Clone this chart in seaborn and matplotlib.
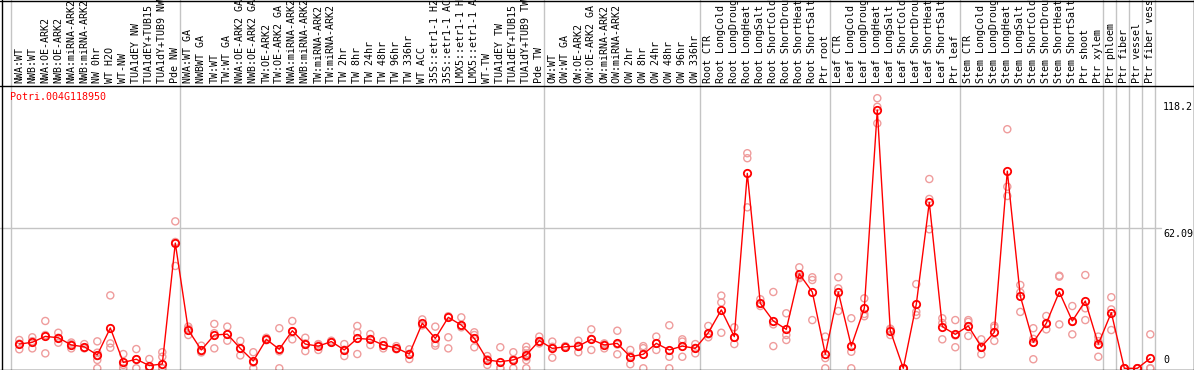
import matplotlib
matplotlib.use("Agg")
import matplotlib.pyplot as plt
import matplotlib.transforms as mtransforms
import numpy as np
import pandas as pd
import seaborn as sns

# ---------------- data ----------------
gene_id = "Potri.004G118950"

samples = [
    "NWA:WT", "NWB:WT", "NWA:OE-ARK2", "NWB:OE-ARK2", "NWA:miRNA-ARK2", "NWB:miRNA-ARK2",
    "NW 0hr", "WT H2O", "WT-NW", "TUA1dEY NW", "TUA1dEY+TUB15 NW", "TUA1dY+TUB9 NW", "Pde NW",
    "NWA:WT GA", "NWBWT GA", "TW:WT", "TW:WT GA", "NWA:OE-ARK2 GA", "NWB:OE-ARK2 GA",
    "TW:OE-ARK2", "TW:OE-ARK2 GA", "NWA:miRNA-ARK2 GA", "NWB:miRNA-ARK2 GA", "TW:miRNA-ARK2",
    "TW:miRNA-ARK2 GA", "TW 2hr", "TW 8hr", "TW 24hr", "TW 48hr", "TW 96hr", "TW 336hr",
    "WT ACC", "35S::etr1-1 H2O", "35S::etr1-1 ACC", "LMX5::etr1-1 H2O", "LMX5::etr1-1 ACC",
    "WT-TW", "TUA1dEY TW", "TUA1dEY+TUB15 TW", "TUA1dY+TUB9 TW", "Pde TW",
    "OW:WT", "OW:WT GA", "OW:OE-ARK2", "OW:OE-ARK2 GA", "OW:miRNA-ARK2", "OW:miRNA-ARK2 GA",
    "OW 2hr", "OW 8hr", "OW 24hr", "OW 48hr", "OW 96hr", "OW 336hr",
    "Root CTR", "Root LongCold", "Root LongDrought", "Root LongHeat", "Root LongSalt",
    "Root ShortCold", "Root ShortDrought", "Root ShortHeat", "Root ShortSalt", "Ptr root",
    "Leaf CTR", "Leaf LongCold", "Leaf LongDrought", "Leaf LongHeat", "Leaf LongSalt",
    "Leaf ShortCold", "Leaf ShortDrought", "Leaf ShortHeat", "Leaf ShortSalt", "Ptr leaf",
    "Stem CTR", "Stem LongCold", "Stem LongDrought", "Stem LongHeat", "Stem LongSalt",
    "Stem ShortCold", "Stem ShortDrought", "Stem ShortHeat", "Stem ShortSalt", "Ptr shoot",
    "Ptr xylem", "Ptr phloem", "Ptr fiber", "Ptr vessel", "Ptr fiber vessel",
]

mean_values = [
    10.7, 11.5, 14.1, 13.5, 10.3, 9.5, 5.9, 17.8, 2.6, 4.0, 1.2, 1.9, 55.3,
    16.9, 8.1, 14.7, 15.1, 8.8, 3.2, 12.8, 8.4, 16.6, 10.7, 9.8, 11.8, 8.1, 13.2,
    12.8, 10.3, 9.0, 6.3, 19.9, 13.2, 22.5, 19.1, 13.2, 3.7, 2.9, 3.7, 5.9, 12.2,
    8.8, 9.5, 9.8, 12.8, 10.3, 11.0, 5.1, 6.2, 11.0, 8.1, 9.8, 8.8,
    15.7, 25.8, 14.0, 86.1, 28.7, 20.9, 17.2, 41.7, 33.7, 6.2,
    33.7, 9.8, 26.5, 114.1, 16.6, 0.0, 28.3, 73.3, 18.4, 15.0,
    18.7, 9.5, 15.9, 87.1, 31.9, 11.5, 19.9, 33.7, 20.9, 29.7,
    10.7, 24.6, 0.0, 0.0, 4.4,
]

replicate_values = [
    [12.5, 8.4, 10.9], [13.7, 8.8, 12.0], [20.9, 6.6, 14.7], [15.7, 11.3, 13.5],
    [10.7, 8.8, 11.4], [10.7, 8.8, 9.0], [11.9, 6.9, 5.4, 3.7, 0.0], [32.2, 11.0, 9.1],
    [6.3, 1.5, 0.0], [8.5, 4.0, 0.0], [4.1, 0.0, 0.0], [7.1, 5.1, 0.0, 0.0],
    [64.9, 45.2, 55.8], [18.4, 14.7, 17.5], [10.0, 7.0, 7.3], [19.6, 8.8, 15.5],
    [18.4, 12.2, 15.0], [12.1, 5.7, 8.6], [7.1, 0.0, 2.5], [13.5, 12.4, 12.6],
    [17.7, 0.0, 7.5], [20.9, 12.8, 16.2], [13.5, 7.6, 11.0], [10.7, 8.1, 10.5],
    [12.2, 11.4, 11.8], [10.7, 5.4, 8.2], [18.7, 15.7, 6.3], [15.1, 10.3, 13.0],
    [12.0, 8.8, 10.1], [9.8, 8.4, 8.8], [8.4, 4.1, 6.4], [21.6, 19.1, 19.0],
    [18.4, 11.0, 10.0], [23.0, 13.7, 8.8], [22.5, 18.1, 19.0], [15.9, 14.7, 9.3],
    [5.4, 1.5, 4.0], [9.3, 0.0, 0.0], [7.1, 0.0, 4.0], [9.5, 8.0, 6.5, 5.0, 3.6, 0.0],
    [14.0, 12.0, 11.0], [11.8, 4.7, 9.5], [9.8, 9.2, 9.5], [12.2, 7.1, 10.0],
    [17.2, 8.1, 13.0], [10.7, 8.8, 11.0], [16.6, 6.2, 10.5], [8.1, 1.8, 5.5],
    [9.8, 8.9, 0.0], [14.0, 8.1, 11.0], [19.0, 5.1, 0.0], [12.8, 11.8, 5.1],
    [10.7, 6.6, 9.0], [18.7, 13.7, 15.0], [32.1, 29.1, 15.7], [18.1, 10.7, 13.5],
    [95.0, 92.8, 71.1], [30.5, 27.5, 28.5], [33.7, 19.4, 9.8], [24.3, 14.7, 12.5],
    [44.6, 39.8, 40.5], [40.2, 39.0, 21.3], [14.0, 0.0, 4.5], [40.2, 35.3, 25.3],
    [22.1, 7.3, 0.0], [30.9, 24.0, 23.0], [119.3, 115.5, 108.2], [17.5, 14.7, 17.2],
    [0.0, 0.0, 0.0], [37.2, 25.0, 23.5], [83.6, 74.8, 61.4], [22.1, 12.8, 20.0],
    [21.3, 9.3, 14.5], [21.3, 14.3, 20.5], [12.8, 6.2, 9.5], [18.8, 18.0, 12.1],
    [105.6, 80.2, 76.1], [36.8, 33.5, 24.9], [17.7, 13.0, 4.0], [23.1, 17.2, 19.5],
    [40.9, 40.5, 19.4], [27.5, 20.5, 15.0], [41.2, 26.5, 21.3], [14.0, 5.1, 12.0],
    [31.4, 26.0, 16.9], [0.0, 0.0, 0.0], [0.0, 0.0, 0.0], [15.0, 0.0, 0.0],
]

# last sample index of each group (separator lines drawn after them)
group_ends = [12, 40, 52, 62, 72, 83, 84, 85, 86, 87]
axis_labels = ["118.2", "62.09", "0"]
axis_label_values = [118.2, 62.09, 0.0]
grid_value = 62.09

# ---------------- figure ----------------
W, H, DPI = 1194, 370, 100
sns.set_style("white")
plt.rcParams["font.family"] = ["DejaVu Sans Mono", "DejaVu Sans"]

fig = plt.figure(figsize=(W / DPI, H / DPI), dpi=DPI)
ax = fig.add_axes([0, 0, 1, 1])
ax.set_axis_off()

# pixel <-> data mapping
x0_px, dx_px = 19.3, 13.0          # pixel centre of first sample, spacing
y0_px, ky = 368.3, 2.264            # pixel row of zero, px per unit
ax.set_xlim((0 - x0_px) / dx_px, (W - x0_px) / dx_px)
ax.set_ylim((y0_px - H) / ky, (y0_px - 0) / ky)

def fy(py):  # pixel row (from top) -> axes fraction
    return 1 - py / H

def fx(px):
    return px / W

light_grey = "#c4c4c4"

# separator lines (span full height)
ax.axvline(-0.66, color=light_grey, lw=1.0, zorder=1)
for g in group_ends:
    ax.axvline(g + 0.385, color=light_grey, lw=1.0, zorder=1)

# horizontal reference line
ax.plot([0, fx(1161)], [fy(y0_px - grid_value * ky)] * 2, transform=ax.transAxes,
        color=light_grey, lw=1.0, zorder=1)

# replicate points
x_idx = np.arange(len(samples))
rep_df = pd.DataFrame(
    [(i, v) for i, reps in enumerate(replicate_values) for v in reps],
    columns=["x", "value"],
)
sns.scatterplot(data=rep_df, x="x", y="value", ax=ax, s=26, marker="o",
                legend=False, zorder=2, clip_on=True)
coll = ax.collections[-1]
coll.set_facecolor("none")
coll.set_edgecolor("#ef9c9c")
coll.set_linewidth(1.0)

# mean line
mean_df = pd.DataFrame({"x": x_idx, "value": mean_values})
sns.lineplot(data=mean_df, x="x", y="value", ax=ax, color="#ff0000", lw=1.0,
             marker="o", markersize=5.3, markerfacecolor="none",
             markeredgecolor="#ff0000", markeredgewidth=1.3,
             errorbar=None, legend=False, zorder=3)
ax.set_axis_off()

# header labels
blend = mtransforms.blended_transform_factory(ax.transData, ax.transAxes)
for i, lab in enumerate(samples):
    ax.text(i, fy(83), lab, transform=blend, rotation=90, ha="center", va="bottom",
            fontsize=7.2, color="black")

# title
ax.text(fx(10), fy(97), gene_id, transform=ax.transAxes, ha="left", va="center",
        fontsize=7.2, color="#ff0000")

# right value labels
for lab, v in zip(axis_labels, axis_label_values):
    py = y0_px - v * ky
    if v == 0:
        ax.text(fx(1163), fy(365), lab, transform=ax.transAxes, ha="left",
                va="bottom", fontsize=7.2, color="black")
    else:
        ax.text(fx(1163), fy(py + 1.5), lab, transform=ax.transAxes, ha="left",
                va="top", fontsize=7.2, color="black")

# borders
ax.plot([0, 1], [fy(85.5)] * 2, transform=ax.transAxes, color="black", lw=1.0, zorder=4)
for xs, ys in [([fx(1.5), fx(1.5)], [0, 1]), ([fx(1193.5), fx(1193.5)], [0, 1]),
               ([0, 1], [fy(0.5), fy(0.5)]), ([0, 1], [fy(369.5), fy(369.5)])]:
    ax.plot(xs, ys, transform=ax.transAxes, color="black", lw=1.0, zorder=4,
            clip_on=False)

fig.savefig("out.png", dpi=DPI, facecolor="white")
